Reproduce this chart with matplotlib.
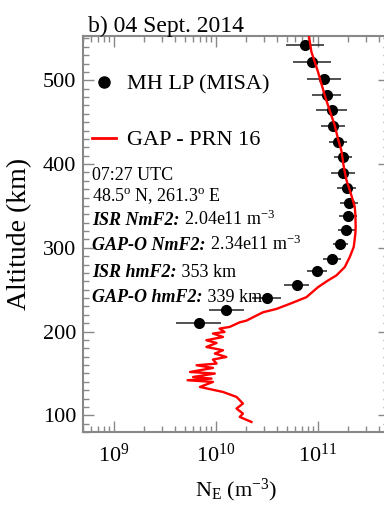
import numpy as np
import matplotlib
matplotlib.use('Agg')
import matplotlib.pyplot as plt
from matplotlib.lines import Line2D
from matplotlib.ticker import MultipleLocator, LogLocator, NullFormatter

plt.rcParams['font.family'] = ['Liberation Serif', 'DejaVu Serif']
plt.rcParams['mathtext.fontset'] = 'custom'
plt.rcParams['mathtext.rm'] = 'Liberation Serif'
plt.rcParams['mathtext.it'] = 'Liberation Serif:italic'
plt.rcParams['mathtext.bf'] = 'Liberation Serif:bold'

# MISA (Millstone Hill) long pulse profile, Ne in units of 1e10 m^-3
misa_alt = [541.8, 521.9, 502.0, 482.9, 464.2, 445.1, 426.3, 408.4, 389.3, 371.9,
            353.0, 337.6, 320.9, 304.7, 287.1, 271.9, 255.2, 240.5, 225.4, 210.2]
misa_ne = [7.46, 8.79, 11.5, 12.2, 13.7, 14.1, 15.8, 17.6, 17.6, 19.2,
           20.4, 19.8, 19.1, 16.7, 13.8, 9.8, 6.2, 3.16, 1.27, 0.68]
# half width of error bars in decades
misa_err = [0.186, 0.186, 0.17, 0.14, 0.15, 0.12, 0.09, 0.09, 0.12, 0.09,
            0.09, 0.09, 0.08, 0.07, 0.09, 0.10, 0.12, 0.14, 0.17, 0.22]

# GAP-O retrieved profile (PRN 16), Ne in units of 1e10 m^-3
gap_alt = [556, 552, 534, 522, 510, 496, 482, 470, 458, 446, 430, 416, 397, 381, 365,
           349, 339, 325, 317, 301, 289, 277, 267, 261, 253, 241, 233, 227, 223,
           217, 213, 211, 205.5, 203.5, 199.5, 197.6, 193.5, 189.6, 186.3, 181.6,
           177.6, 173.7, 169.6, 166.5, 161.7, 159.7, 156.5, 151.7, 149.8, 145.7,
           143.8, 141.8, 139.8, 133.8, 127.8, 121.9, 114.0, 108.0, 102.0, 98.0, 92.0]
gap_ne = [8.1, 8.22, 8.67, 9.35, 10.07, 10.86, 11.72, 12.62, 13.61, 14.69, 15.81,
          17.06, 17.99, 19.10, 21.09, 23.07, 23.4, 23.55, 23.4, 22.54, 20.61, 18.41,
          15.24, 12.62, 10.07, 7.74, 5.31, 3.94, 2.91, 2.32, 2.0, 1.72, 1.37, 1.09,
          1.22, 0.94, 1.18, 0.81, 1.02, 0.81, 1.18, 0.98, 1.27, 0.94, 1.02, 0.65,
          0.94, 0.56, 0.98, 0.60, 0.91, 0.53, 0.94, 0.70, 1.18, 1.60, 1.85, 1.60,
          1.85, 1.72, 2.24]

info_lines = [
    ("", "07:27 UTC"),
    ("", "48.5$^{\\mathrm{o}}$ N, 261.3$^{\\mathrm{o}}$ E"),
    ("ISR NmF2:", " 2.04e11 m$^{\\mathrm{-3}}$"),
    ("GAP-O NmF2:", " 2.34e11 m$^{\\mathrm{-3}}$"),
    ("ISR hmF2:", " 353 km"),
    ("GAP-O hmF2:", " 339 km"),
]
info_y = [0.637, 0.584, 0.522, 0.459, 0.392, 0.329]

misa_ne = np.array(misa_ne) * 1e10
misa_err = np.array(misa_err)
gap_ne = np.array(gap_ne) * 1e10

fig = plt.figure(figsize=(3.84, 5.13), dpi=100)
ax = fig.add_axes([0.2161, 0.1579, 0.797, 0.772])

xerr = [misa_ne - misa_ne * 10**(-misa_err), misa_ne * 10**misa_err - misa_ne]
ax.errorbar(misa_ne, misa_alt, xerr=xerr, fmt='o', color='black', ecolor='#222222',
            elinewidth=1.1, capsize=0, ms=7, zorder=3)
ax.plot(gap_ne, gap_alt, color='red', lw=1.7, zorder=4)

ax.set_xscale('log')
ax.set_xlim(5e8, 5e11)
ax.set_ylim(80, 553)
ax.yaxis.set_major_locator(MultipleLocator(100))
ax.yaxis.set_minor_locator(MultipleLocator(10))
ax.xaxis.set_major_locator(LogLocator(base=10, numticks=10))
ax.xaxis.set_minor_locator(LogLocator(base=10, subs=np.arange(2, 10), numticks=20))
ax.xaxis.set_minor_formatter(NullFormatter())

ax.tick_params(which='both', direction='in', top=True, right=True, color='#888888',
               labelsize=16)
ax.tick_params(axis='y', pad=5)
ax.tick_params(axis='x', pad=8)
ax.tick_params(which='major', length=8, width=1)
ax.tick_params(which='minor', length=4, width=1)
for s in ax.spines.values():
    s.set_color('#888888')
    s.set_linewidth(1.5)

ax.set_ylabel('Altitude (km)', fontsize=20)
ax.yaxis.set_label_coords(-0.165, 0.5)
ax.set_xlabel('N$_{\\mathrm{E}}$ (m$^{\\mathrm{-3}}$)', fontsize=16)
ax.xaxis.set_label_coords(0.5, -0.112)

fig.text(0.229, 0.938, 'b) 04 Sept. 2014', fontsize=17, va='baseline', ha='left')

handles = [Line2D([], [], marker='o', ls='none', color='black', ms=8),
           Line2D([], [], color='red', lw=2)]
ax.legend(handles, ['MH LP (MISA)', 'GAP - PRN 16'], loc='upper left',
          bbox_to_anchor=(-0.035, 0.955), frameon=False, fontsize=16,
          labelspacing=1.6, handlelength=1.05, handletextpad=0.5)

for (bold, rest), y in zip(info_lines, info_y):
    if bold:
        t = ax.text(0.03, y, bold, transform=ax.transAxes, fontsize=13,
                    fontweight='bold', fontstyle='italic', va='baseline')
        ax.annotate(rest, xy=(1, y), xycoords=(t, 'axes fraction'), fontsize=13,
                    va='baseline', ha='left')
    else:
        ax.text(0.03, y, rest, transform=ax.transAxes, fontsize=13, va='baseline')

fig.savefig('out.png', dpi=100)
